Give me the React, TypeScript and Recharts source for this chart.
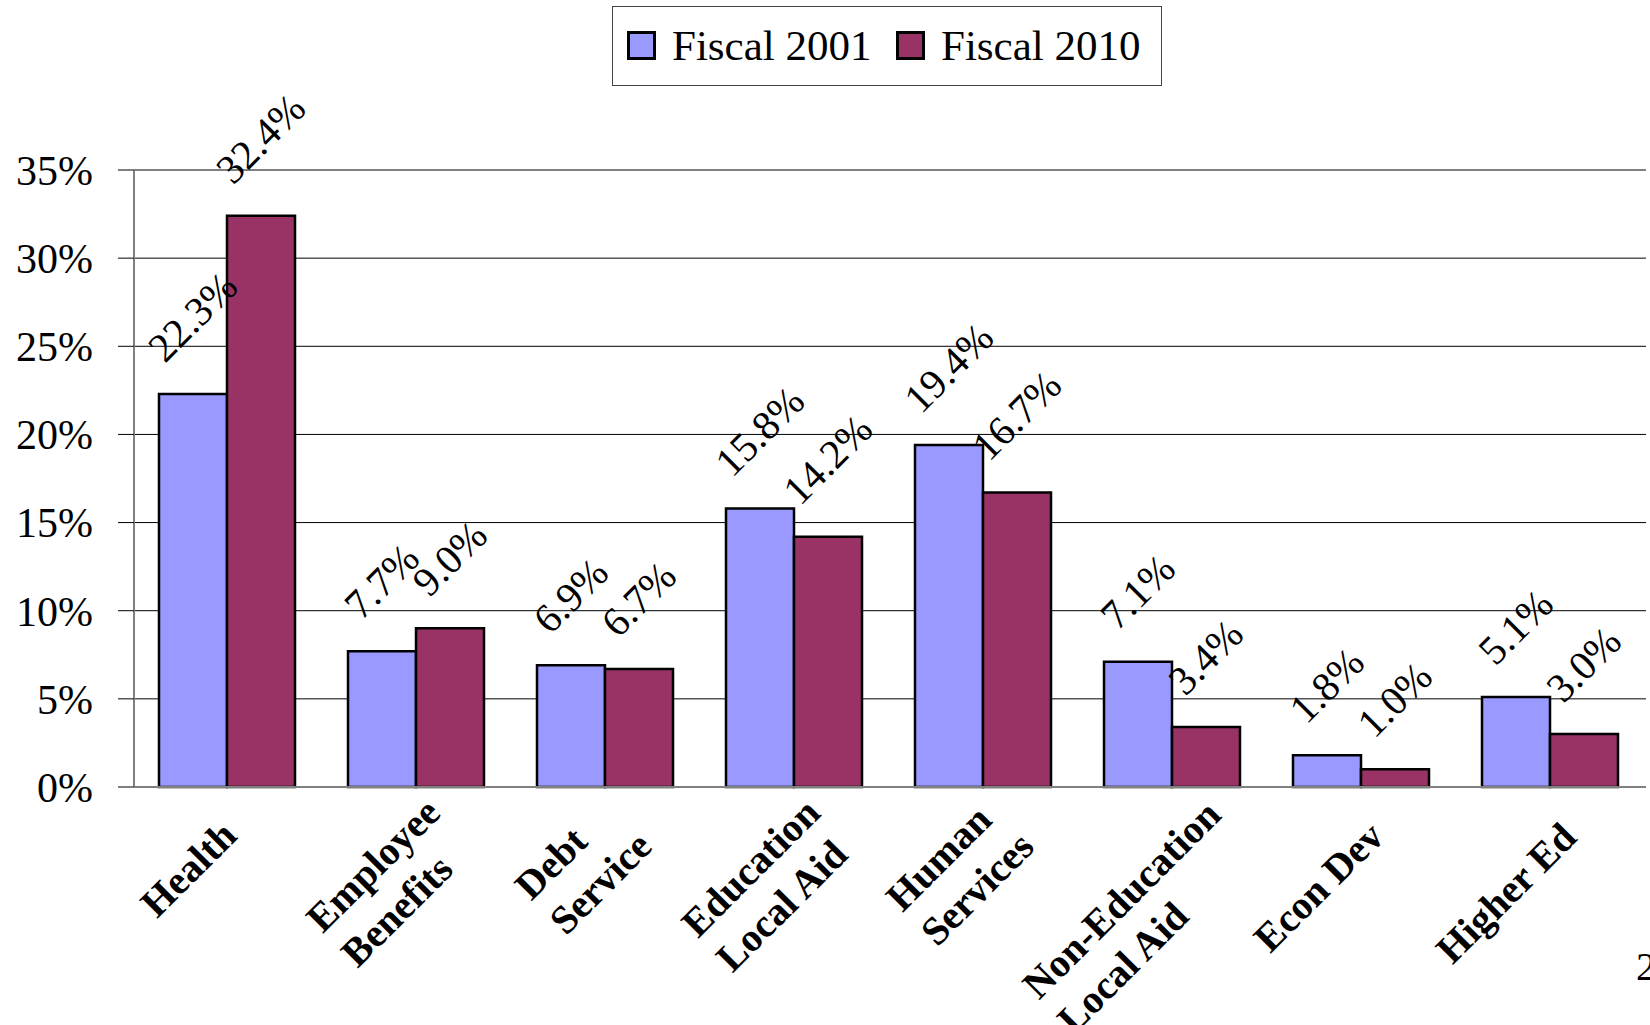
import React from 'react';
import {
    BarChart,
    Bar,
    XAxis,
    YAxis,
    CartesianGrid,
    Legend,
    ReferenceLine,
    LabelList,
} from 'recharts';

// categories (line breaks as in the original axis labels)
const categories = [
    'Health',
    'Employee\nBenefits',
    'Debt\nService',
    'Education\nLocal Aid',
    'Human\nServices',
    'Non-Education\nLocal Aid',
    'Econ Dev',
    'Higher Ed',
];
const fiscal2001 = [22.3, 7.7, 6.9, 15.8, 19.4, 7.1, 1.8, 5.1];
const fiscal2010 = [32.4, 9.0, 6.7, 14.2, 16.7, 3.4, 1.0, 3.0];
const seriesNames = ['Fiscal 2001', 'Fiscal 2010'];
const yTicks = [0, 5, 10, 15, 20, 25, 30, 35];

const COLORS = ['#9999FF', '#993366'];
const FONT = '"Liberation Serif", "Times New Roman", serif';

const data = categories.map((name, i) => ({
    name,
    f2001: fiscal2001[i],
    f2010: fiscal2010[i],
}));

let ctx: CanvasRenderingContext2D | null = null;
const measure = (text: string, font: string) => {
    if (!ctx) ctx = document.createElement('canvas').getContext('2d');
    if (!ctx) return text.length * 20;
    ctx.font = font;
    return ctx.measureText(text).width;
};

// rotated data label, centred over its bar
const ValueLabel = (props: any) => {
    const { x, y, width, value } = props;
    const text = `${Number(value).toFixed(1)}%`;
    const w = measure(text, `41px ${FONT}`);
    const cx = x + width / 2;
    const cy = y - 30 - (w + 27) / Math.SQRT2 / 2;
    return (
        <text
            x={cx}
            y={cy}
            dy="0.33em"
            textAnchor="middle"
            transform={`rotate(-45 ${cx} ${cy})`}
            fontFamily={FONT}
            fontSize={41}
            fill="#000"
        >
            {text}
        </text>
    );
};

// rotated, left aligned, possibly two-line category label
// (start point drifts left/down as the block gets wider, like Excel does)
const CategoryTick = (props: any) => {
    const { x, y, payload } = props;
    const lines = String(payload.value).split('\n');
    const blockW = Math.max(
        ...lines.map((l) => measure(l, `bold 40px ${FONT}`))
    );
    const sx = x - 19 - 0.436 * blockW;
    const sy = y + 48 + 0.73 * blockW - 24 * (lines.length - 1);
    return (
        <g transform={`translate(${sx},${sy}) rotate(-45)`}>
            {lines.map((l, i) => (
                <text
                    key={i}
                    x={0}
                    y={i * 49}
                    textAnchor="start"
                    fontFamily={FONT}
                    fontWeight="bold"
                    fontSize={40}
                    fill="#000"
                >
                    {l}
                </text>
            ))}
        </g>
    );
};

const LegendBox = (props: any) => {
    const items = props.payload || [];
    const itemX = [15, 284];
    return (
        <svg width={551} height={81} style={{ display: 'block' }}>
            <rect
                x={0.5}
                y={0.5}
                width={549}
                height={79}
                fill="#fff"
                stroke="#444"
                strokeWidth={1}
            />
            {items.map((item: any, i: number) => (
                <g key={item.value}>
                    <rect
                        x={itemX[i] + 1.5}
                        y={26.5}
                        width={26}
                        height={26}
                        fill={item.color}
                        stroke="#000"
                        strokeWidth={3}
                    />
                    <text
                        x={itemX[i] + 45}
                        y={54}
                        fontFamily={FONT}
                        fontSize={43}
                        fill="#000"
                    >
                        {item.value}
                    </text>
                </g>
            ))}
        </svg>
    );
};

export default function App() {
    return (
        <div
            style={{
                position: 'absolute',
                left: 0,
                top: 0,
                width: 1650,
                height: 1025,
                overflow: 'hidden',
                background: '#fff',
                fontFamily: FONT,
            }}
        >
            <BarChart
                width={1650}
                height={1025}
                data={data}
                margin={{ top: 170, right: 4, left: 0, bottom: 0 }}
                barGap={0}
                barSize={68}
            >
                <CartesianGrid
                    vertical={false}
                    stroke="#000"
                    strokeWidth={1}
                />
                <XAxis
                    dataKey="name"
                    height={238}
                    interval={0}
                    padding={{ left: -2, right: 2 }}
                    tickLine={false}
                    tickSize={0}
                    tickMargin={0}
                    axisLine={{ stroke: '#808080', strokeWidth: 2 }}
                    tick={<CategoryTick />}
                />
                <YAxis
                    width={134}
                    domain={[0, 35]}
                    ticks={yTicks}
                    interval={0}
                    tickFormatter={(v: number) => `${v}%`}
                    tickSize={16}
                    tickMargin={25}
                    tickLine={{ stroke: '#000' }}
                    axisLine={{ stroke: '#808080', strokeWidth: 2 }}
                    tick={{ fill: '#000', fontSize: 42, fontFamily: FONT }}
                />
                <YAxis
                    yAxisId="right"
                    orientation="right"
                    width={0}
                    domain={[0, 35]}
                    tick={false}
                    tickLine={false}
                    axisLine={{ stroke: '#808080', strokeWidth: 2 }}
                />
                <ReferenceLine y={35} stroke="#808080" strokeWidth={2} />
                <Legend
                    layout="horizontal"
                    verticalAlign="middle"
                    align="center"
                    wrapperStyle={{ left: 612, top: 6, width: 551, height: 81 }}
                    content={<LegendBox />}
                />
                <Bar
                    dataKey="f2001"
                    name={seriesNames[0]}
                    fill={COLORS[0]}
                    stroke="#000"
                    strokeWidth={2.5}
                    isAnimationActive={false}
                >
                    <LabelList dataKey="f2001" content={<ValueLabel />} />
                </Bar>
                <Bar
                    dataKey="f2010"
                    name={seriesNames[1]}
                    fill={COLORS[1]}
                    stroke="#000"
                    strokeWidth={2.5}
                    isAnimationActive={false}
                >
                    <LabelList dataKey="f2010" content={<ValueLabel />} />
                </Bar>
            </BarChart>
            <div
                style={{
                    position: 'absolute',
                    left: 1636,
                    top: 947,
                    fontSize: 40,
                    lineHeight: 1,
                }}
            >
                2
            </div>
        </div>
    );
}
